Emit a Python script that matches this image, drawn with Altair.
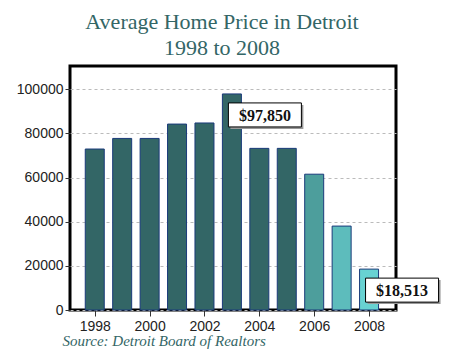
import altair as alt
import pandas as pd

years = [1998, 1999, 2000, 2001, 2002, 2003, 2004, 2005, 2006, 2007, 2008]
prices = [72900, 77700, 77700, 84200, 84700, 97850, 73200, 73200, 61500, 38000, 18513]
colors = ["#336666", "#336666", "#336666", "#336666", "#336666", "#336666",
          "#336666", "#336666", "#4d9e9c", "#5dbcbc", "#68d2d2"]

ann_years = [2003, 2008]
ann_values = [97850, 18513]
ann_labels = ["$97,850", "$18,513"]

df = pd.DataFrame({"year": years, "price": prices, "color": colors})
ann = pd.DataFrame({"year": ann_years, "price": ann_values, "label": ann_labels})

xscale = alt.Scale(domain=[1997.28, 2008.8], nice=False, zero=False)
yscale = alt.Scale(domain=[0, 110500], nice=False)

xaxis = alt.Axis(
    values=years, format="d",
    labelExpr="datum.value % 2 == 0 ? datum.label : ''",
    grid=False, domain=False, tickSize=6, tickColor="#333", tickWidth=1,
    labelFont="Liberation Sans", labelFontSize=14, labelColor="#222", labelPadding=3,
    title="Source: Detroit Board of Realtors", titleFont="Liberation Serif",
    titleFontStyle="italic", titleFontWeight="normal", titleFontSize=15,
    titleColor="#336666", titleAnchor="start", titleAlign="left", titleX=-8, titleY=35,
    titleBaseline="alphabetic",
)
yaxis = alt.Axis(
    values=[0, 20000, 40000, 60000, 80000, 100000], format="d",
    grid=True, gridDash=[3, 3], gridColor="#bbbbbb", gridWidth=1,
    domain=False, tickSize=5, tickColor="#333", tickWidth=1,
    labelFont="Liberation Sans", labelFontSize=14, labelColor="#222", labelPadding=2,
    title=None,
)

bars = alt.Chart(df).mark_bar(size=19, stroke="#1a3a7a", strokeWidth=1).encode(
    x=alt.X("year:Q", scale=xscale, axis=xaxis),
    y=alt.Y("price:Q", scale=yscale, axis=yaxis),
    color=alt.Color("color:N", scale=None, legend=None),
)

shadow = alt.Chart(ann).mark_rect(fill="#999999", width=73, height=24,
                                  xOffset=35, yOffset=23).encode(
    x=alt.X("year:Q", scale=xscale), y=alt.Y("price:Q", scale=yscale))
box = alt.Chart(ann).mark_rect(fill="white", stroke="black", strokeWidth=1,
                               width=73, height=24, xOffset=33, yOffset=21).encode(
    x=alt.X("year:Q", scale=xscale), y=alt.Y("price:Q", scale=yscale))
text = alt.Chart(ann).mark_text(font="Liberation Serif", fontWeight="bold", fontSize=16,
                                color="#111", dx=33, dy=22, baseline="middle",
                                align="center").encode(
    x=alt.X("year:Q", scale=xscale), y=alt.Y("price:Q", scale=yscale), text="label:N")

chart = alt.layer(bars, shadow, box, text).properties(
    width=326, height=244,
    autosize=alt.AutoSizeParams(type="none"),
    padding={"left": 62, "top": 58, "right": 46, "bottom": 41},
    title=alt.Title(["Average Home Price in Detroit", "1998 to 2008"],
                    font="Liberation Serif", fontSize=22, fontWeight="normal",
                    color="#336666", lineHeight=26, anchor="middle", dx=-11, offset=6),
).configure_view(stroke="black", strokeWidth=3)

chart.save("out.html", embed_options={"renderer": "svg", "actions": False})
